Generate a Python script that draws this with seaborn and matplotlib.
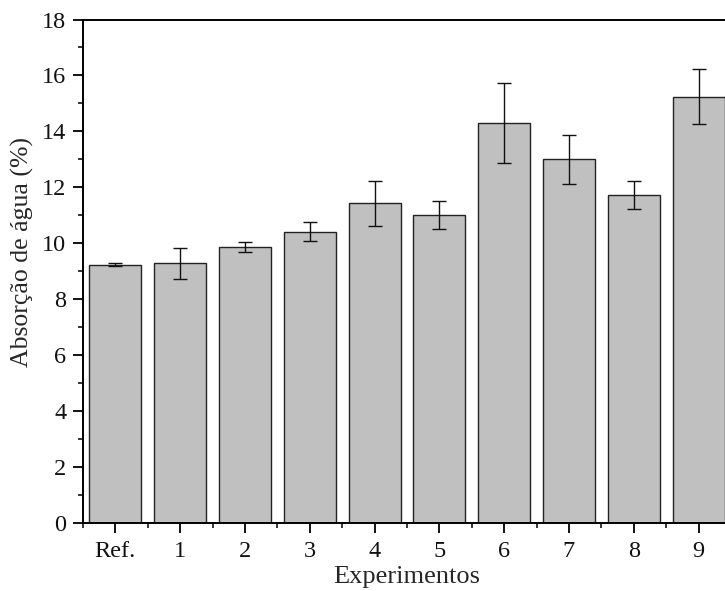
import matplotlib
matplotlib.use("Agg")
import matplotlib.pyplot as plt
import seaborn as sns
import pandas as pd
from matplotlib.ticker import MultipleLocator, FixedLocator

categories = ["Ref.", "1", "2", "3", "4", "5", "6", "7", "8", "9"]
values = [9.23, 9.28, 9.87, 10.42, 11.43, 11.0, 14.31, 13.0, 11.73, 15.24]
errors = [0.05, 0.55, 0.18, 0.33, 0.80, 0.50, 1.43, 0.87, 0.50, 0.98]

sns.set_theme(style="ticks")
plt.rcParams["font.family"] = ["Liberation Serif", "DejaVu Serif"]

df = pd.DataFrame({"Experimento": categories, "Absorcao": values})

fig = plt.figure(figsize=(7.25, 5.91), dpi=100)
ax = fig.add_axes([83 / 725, (591 - 523) / 591, (731 - 83) / 725, (523 - 19.5) / 591])

sns.barplot(data=df, x="Experimento", y="Absorcao", order=categories,
            color="#c0c0c0", saturation=1, width=0.8, errorbar=None,
            edgecolor="#222222", linewidth=1.0, ax=ax)
ax.errorbar(range(len(categories)), values, yerr=errors, fmt="none",
            ecolor="#111111", elinewidth=1.0, capsize=5, capthick=1.0)

ax.set_xlim(-0.5, len(categories) - 0.5)
ax.set_ylim(0, 18)
ax.yaxis.set_major_locator(MultipleLocator(2))
ax.yaxis.set_minor_locator(MultipleLocator(1))
ax.xaxis.set_minor_locator(FixedLocator([i + 0.5 for i in range(-1, len(categories))]))

for s in ax.spines.values():
    s.set_linewidth(1.4)
    s.set_color("black")
ax.tick_params(axis="both", which="major", direction="out", length=7, width=1.3,
               labelsize=17.5, colors="black")
ax.tick_params(axis="x", which="major", pad=6)
ax.tick_params(axis="y", which="major", pad=5)
ax.tick_params(axis="both", which="minor", direction="out", length=3.5, width=1.3)
for lab in ax.get_xticklabels() + ax.get_yticklabels():
    lab.set_color("#111111")

ax.set_xlabel("Experimentos", fontsize=19, labelpad=3)
ax.set_ylabel("Absorção de água (%)", fontsize=18.5)
ax.yaxis.set_label_coords(-0.076, 0.538)

fig.savefig("out.png", dpi=100)
